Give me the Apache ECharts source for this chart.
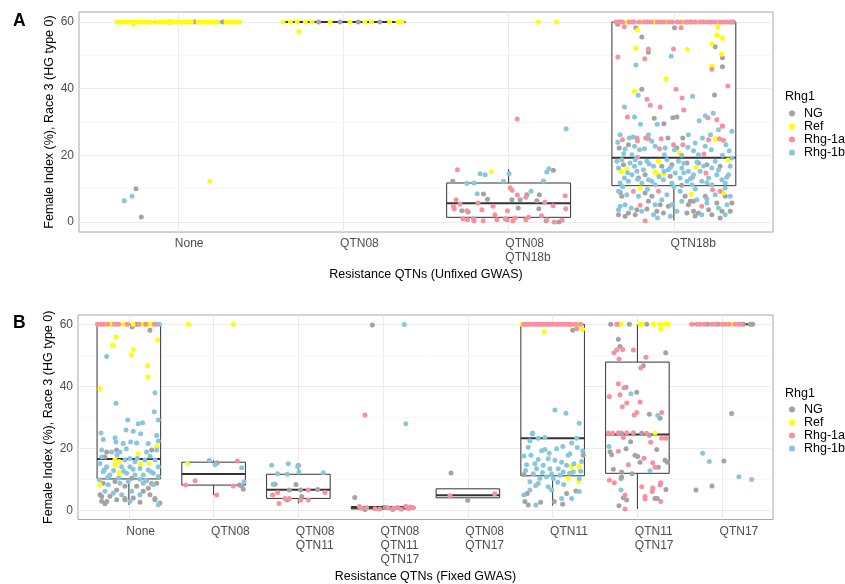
<!DOCTYPE html>
<html>
<head>
<meta charset="utf-8">
<title>Female Index by resistance QTN combination</title>
<script src="https://cdn.jsdelivr.net/npm/echarts@6/dist/echarts.min.js"></script>
<style>
  html, body { margin: 0; padding: 0; background: #ffffff; }
  #chart { width: 845px; height: 584px; }
</style>
</head>
<body>
<div id="chart"></div>
<script>
// ---------- categories and axis ticks ----------
const unfixedCats = ['None', 'QTN08', 'QTN08\nQTN18b', 'QTN18b'];
const fixedCats = ['None', 'QTN08', 'QTN08\nQTN11', 'QTN08\nQTN11\nQTN17', 'QTN08\nQTN17', 'QTN11', 'QTN11\nQTN17', 'QTN17'];
const yMajorTicks = [0, 20, 40, 60];
const yMinorTicks = [10, 30, 50];

const genotypes = ['NG', 'Ref', 'Rhg-1a', 'Rhg-1b'];
const genotypeColors = ['#a3a3a3', '#ffff00', '#f8919f', '#89c6dc'];

// ---------- box statistics per category: [lower whisker, Q1, median, Q3, upper whisker] ----------
const unfixedBoxStats = [
  [60, 60, 60, 60, 60],
  [60, 60, 60, 60, 60],
  [0, 1.4, 5.6, 11.7, 15.9],
  [0.5, 10.9, 19.3, 60, 60]
];
const fixedBoxStats = [
  [1.7, 10.1, 16.5, 60, 60],
  [4.9, 8.1, 11.7, 15.5, 16.1],
  [2.2, 3.8, 6.6, 11.6, 14.8],
  [0.1, 0.4, 0.8, 1.2, 1.6],
  [3.2, 4.0, 4.8, 6.9, 6.9],
  [1.5, 11.1, 23.2, 60, 60],
  [0.4, 11.9, 24.4, 47.8, 60],
  [60, 60, 60, 60, 60]
];

// ---------- observations: [category index, jitter offset, female index] ----------
const unfixedNG = [
  [0,-0.255,10.0],[0,-0.223,1.5],[0,0.10,60],[0,0.27,60],[0,-0.05,60],
  [1,-0.15,60],[1,-0.02,60],[1,0.09,60],[1,0.22,60],
  [2,-0.338,12.2],[2,0.271,15.5],[2,-0.152,8.4],[2,0.11,8.2],[2,0.186,8.2],[2,-0.128,6.8],[2,0.02,6.7],[2,0.07,6.7],
  [2,0.171,6.4],[2,-0.283,3.4],[2,-0.245,3.0],[2,0.058,4.2],[2,0.183,4.0],[2,0.227,0.3],[2,0.304,0],
  [3,-0.34,59.3],[3,-0.23,58.3],[3,0.004,58.3],[3,-0.194,55.5],[3,0.25,52.6],[3,-0.154,50.9],[3,0.294,49.3],[3,0.294,46.6],
  [3,-0.194,39.8],[3,0.246,38.1],[3,-0.119,31.1],[3,-0.006,31.3],[3,0.018,31.5],[3,-0.06,29.5],
  [3,-0.331,22.2],[3,-0.275,23.2],[3,-0.036,25.2],[3,0.018,22.2],[3,0.054,25.2],
  [3,-0.305,17.2],[3,-0.214,13.2],[3,-0.174,14.2],[3,-0.073,16.7],[3,-0.012,17.2],[3,0.079,17.7],[3,0.149,17.7],[3,0.2,17.2],
  [3,0.28,16.7],[3,0.048,11.0],[3,-0.022,13.7],
  [3,-0.315,7.7],[3,-0.174,8.7],[3,-0.335,2.2],[3,-0.275,2.7],[3,-0.234,2.2],[3,-0.154,6.2],[3,-0.133,7.7],[3,-0.103,3.2],
  [3,-0.063,2.7],[3,-0.033,4.7],[3,-0.224,3.7],[3,0.068,7.7],[3,0.088,5.2],[3,0.119,3.2],[3,0.149,2.7],[3,0.19,7.7],
  [3,0.21,3.7],[3,0.26,5.7],[3,0.311,7.7],[3,0.291,3.2],[3,0.351,5.7],[3,0.23,2.2],[3,0.079,2.7],[3,-0.295,1.7],
  [3,0.341,3.2],[3,-0.083,5.2],[3,0.119,6.2],[3,-0.325,8.9],[3,-0.163,3.9],[3,0.099,6.2],[3,0.129,1.8],[3,0.28,1.2],
  [3,-0.33,60],[3,0.36,60],[3,0.10,60],[3,-0.12,60],[3,0.22,60]
];
const unfixedRef = [
  [0,0.191,12.2],[0,-0.27,59.4],
  [0,-0.37,60],[0,-0.355,60],[0,-0.34,60],[0,-0.32,60],[0,-0.305,60],[0,-0.29,60],[0,-0.26,60],[0,-0.245,60],
  [0,-0.23,60],[0,-0.21,60],[0,-0.19,60],[0,-0.175,60],[0,-0.16,60],[0,-0.13,60],[0,-0.115,60],[0,-0.1,60],
  [0,-0.08,60],[0,-0.06,60],[0,-0.045,60],[0,-0.03,60],[0,-0.01,60],[0,0.015,60],[0,0.03,60],[0,0.05,60],
  [0,0.065,60],[0,0.08,60],[0,0.12,60],[0,0.135,60],[0,0.15,60],[0,0.17,60],[0,0.19,60],[0,0.205,60],
  [0,0.22,60],[0,0.24,60],[0,0.29,60],[0,0.305,60],[0,0.32,60],[0,0.34,60],[0,0.36,60],[0,0.37,60],
  [1,-0.27,57.2],[1,-0.365,60],[1,-0.32,60],[1,-0.28,60],[1,-0.23,60],[1,-0.19,60],[1,-0.08,60],[1,0.04,60],
  [1,0.13,60],[1,0.17,60],[1,0.28,60],[1,0.33,60],[1,0.355,60],
  [2,-0.104,15.1],[2,0.18,60],[2,0.29,60],
  [3,-0.22,57.6],[3,0.266,58.6],[3,0.26,56.1],[3,0.294,55.1],[3,0.23,53.4],[3,-0.23,52.1],[3,0.08,51.8],[3,0.288,50.3],
  [3,0.232,46.8],[3,-0.047,43.0],[3,-0.24,39.3],[3,0.25,25.0],[3,0.032,20.6],[3,-0.319,15.0],[3,-0.285,15.9],[3,-0.093,18.2],
  [3,-0.113,15.0],[3,-0.093,14.2],[3,-0.06,14.4],[3,0.133,16.4],[3,0.327,18.6],[3,-0.204,10.2],[3,0.105,8.4],[3,0.3,8.7],
  [3,-0.28,60],[3,-0.2,60],[3,-0.05,60],[3,0.05,60],[3,0.14,60],[3,0.27,60],[3,-0.11,60]
];
const unfixedRhg1a = [
  [2,0.052,30.9],[2,-0.31,15.7],[2,0.009,10.3],[2,0.021,9.5],[2,0.053,8.1],[2,0.104,7.4],[2,0.342,7.9],[2,-0.318,6.7],
  [2,0.219,5.9],[2,-0.294,5.4],[2,-0.334,4.7],[2,-0.329,3.9],[2,-0.185,5.7],[2,-0.094,4.7],[2,0.269,4.9],[2,0.345,4.0],
  [2,-0.253,3.4],[2,-0.162,3.7],[2,-0.007,3.4],[2,-0.083,2.2],[2,-0.277,1.0],[2,-0.249,0.7],[2,-0.213,1.0],[2,-0.209,0.3],
  [2,-0.154,0.4],[2,-0.071,0.7],[2,-0.021,1.0],[2,-0.011,0.7],[2,0.025,0.3],[2,0.039,1.2],[2,0.104,0.7],[2,0.12,1.4],
  [2,0.199,1.9],[2,0.231,0.7],[2,0.276,0.0],[2,0.324,0.5],
  [3,-0.30,58.6],[3,0.044,58.3],[3,-0.154,51.9],[3,-0.002,51.9],[3,-0.339,49.5],[3,-0.176,49.0],[3,0.23,45.8],[3,0.327,40.8],
  [3,0.014,39.8],[3,0.05,37.2],[3,-0.163,36.8],[3,-0.143,35.0],[3,-0.083,34.5],[3,0.06,33.6],[3,-0.281,31.5],[3,0.206,31.3],
  [3,0.26,30.7],[3,0.294,28.8],
  [3,-0.311,24.7],[3,-0.224,25.2],[3,-0.22,24.4],[3,-0.17,25.2],[3,-0.154,25.0],[3,-0.087,22.0],[3,-0.077,25.0],[3,-0.002,23.2],
  [3,0.054,23.2],[3,0.21,24.7],[3,0.276,25.0],[3,0.3,24.5],[3,0.294,28.7],[3,-0.22,19.4],[3,0.182,20.4],
  [3,0.113,13.4],[3,0.194,14.7],
  [3,-0.245,9.2],[3,-0.204,5.0],[3,-0.093,9.2],[3,-0.174,0.4],[3,0.169,4.7],[3,0.234,9.7],[3,0.28,9.2],
  [3,-0.35,60],[3,-0.33,60],[3,-0.31,60],[3,-0.27,60],[3,-0.25,60],[3,-0.24,60],[3,-0.21,60],[3,-0.18,60],
  [3,-0.16,60],[3,-0.14,60],[3,-0.1,60],[3,-0.08,60],[3,-0.06,60],[3,-0.03,60],[3,-0.01,60],[3,0.02,60],
  [3,0.04,60],[3,0.07,60],[3,0.08,60],[3,0.11,60],[3,0.13,60],[3,0.16,60],[3,0.18,60],[3,0.2,60],
  [3,0.23,60],[3,0.25,60],[3,0.28,60],[3,0.3,60],[3,0.32,60],[3,0.34,60],[3,0.35,60]
];
const unfixedRhg1b = [
  [0,-0.326,6.4],[0,-0.279,7.7],
  [2,0.348,28.0],[2,-0.173,14.5],[2,-0.142,14.2],[2,0.003,14.5],[2,0.244,16.0],[2,0.231,15.0],[2,-0.253,11.6],[2,-0.209,11.7],
  [2,-0.031,12.2],[2,0.211,12.3],[2,-0.19,8.5],[2,0.136,9.2],
  [3,-0.016,49.7],[3,-0.23,47.1],[3,-0.216,38.0],[3,0.113,37.7],[3,-0.299,34.5],[3,-0.238,31.5],[3,0.19,31.9],[3,0.238,32.6],
  [3,0.153,30.4],[3,-0.202,29.3],[3,-0.101,29.3],
  [3,-0.325,26.2],[3,-0.339,23.9],[3,-0.295,21.9],[3,-0.27,25.2],[3,-0.248,25.5],[3,-0.238,22.7],[3,-0.208,21.7],[3,-0.154,26.2],
  [3,-0.133,24.2],[3,-0.178,22.0],[3,-0.113,22.7],[3,-0.053,22.2],[3,0.004,21.7],[3,0.085,22.4],[3,0.119,21.4],[3,0.129,23.7],
  [3,0.173,25.2],[3,0.19,22.7],[3,0.226,21.7],[3,0.222,26.2],[3,0.315,23.2],[3,0.335,21.4],[3,0.351,27.2],[3,0.27,27.7],
  [3,0.088,26.2],[3,-0.303,20.5],[3,-0.254,20.2],[3,-0.057,20.2],[3,0.048,20.0],[3,0.149,20.2],[3,0.294,20.0],
  [3,-0.345,18.2],[3,-0.315,18.7],[3,-0.335,16.2],[3,-0.299,13.2],[3,-0.265,17.7],[3,-0.238,16.7],[3,-0.254,14.2],[3,-0.224,15.2],
  [3,-0.325,11.7],[3,-0.275,12.2],[3,-0.204,17.7],[3,-0.184,15.7],[3,-0.163,18.2],[3,-0.194,11.7],[3,-0.154,12.7],[3,-0.123,16.7],
  [3,-0.133,12.2],[3,-0.042,18.7],[3,-0.033,15.7],[3,-0.063,12.7],[3,0.008,14.7],[3,-0.012,11.7],[3,0.028,18.2],[3,0.048,16.2],
  [3,0.038,13.2],[3,0.088,15.2],[3,0.079,12.2],[3,0.119,14.2],[3,0.159,15.2],[3,0.169,12.2],[3,0.21,13.2],[3,0.23,16.2],
  [3,0.25,18.2],[3,0.26,14.2],[3,0.291,12.7],[3,0.341,16.7],[3,0.331,14.2],[3,0.311,11.7],[3,0.351,19.2],[3,-0.113,11.2],
  [3,0.109,11.2],[3,0.23,11.2],[3,-0.234,18.7],
  [3,-0.28,14.8],[3,-0.22,12.8],[3,-0.15,17.4],[3,-0.09,13.6],[3,-0.02,16.4],[3,0.06,17.6],[3,0.1,13.0],[3,0.14,18.0],
  [3,0.18,16.8],[3,0.2,11.8],[3,0.27,15.6],[3,0.32,13.4],[3,-0.31,10.6],[3,0.0,10.6],[3,-0.06,15.2],[3,0.06,14.8],
  [3,-0.335,9.2],[3,-0.285,8.2],[3,-0.214,7.7],[3,-0.325,4.7],[3,-0.295,5.2],[3,-0.258,4.2],[3,-0.194,3.2],[3,-0.113,5.2],
  [3,-0.073,6.7],[3,-0.042,8.2],[3,-0.012,5.2],[3,0.038,9.2],[3,0.048,6.2],[3,0.139,6.7],[3,0.2,5.7],[3,0.25,8.2],
  [3,0.321,5.2],[3,0.311,2.2],[3,0.341,7.7],[3,0.27,4.2],[3,0.169,2.2],[3,0.018,3.2],[3,-0.123,2.2],[3,-0.335,3.7],
  [3,-0.022,1.7],[3,-0.099,1.2],[3,0.2,6.9],[3,-0.16,9.8],[3,0.13,9.9],[3,0.31,10.2]
];

const fixedNG = [
  [0,0.249,58.1],[0,0.04,59.1],[0,0.09,60],[0,-0.2,60],
  [0,-0.144,19.4],[0,-0.262,18.8],[0,0.269,19.4],[0,-0.282,17.2],[0,0.033,10.3],[0,-0.302,8.7],[0,-0.164,9.3],[0,-0.046,7.7],
  [0,0.092,7.7],[0,0.229,7.1],[0,0.328,8.7],[0,-0.341,5.0],[0,-0.223,4.5],[0,-0.144,3.4],[0,-0.046,3.4],[0,0.052,3.9],
  [0,0.17,6.1],[0,0.131,2.6],[0,0.249,5.0],[0,0.308,3.4],[0,-0.321,2.9],[0,-0.282,2.1],[0,0.367,2.3],
  [0,-0.32,4.4],[0,-0.26,2.8],[0,-0.144,6.5],[0,-0.046,3.8],[0,0.21,9.7],[0,0.308,3.8],[0,0.269,8.6],
  [1,0.044,15.3],[1,0.303,8.1],[1,0.35,6.8],[1,0.331,7.8],
  [2,-0.276,8.4],[2,-0.028,8.3],[2,-0.107,6.5],[2,0.027,6.5],[2,0.228,6.7],[2,-0.131,3.3],[2,0.039,4.4],[2,0.0,14.4],
  [3,-0.127,59.8],[3,-0.335,4.1],[3,-0.214,0.2],[3,0.022,0.9],[3,0.113,0.2],
  [4,-0.199,12.0],[4,-0.002,3.2],
  [5,0.236,58.1],[5,0.361,17.7],[5,-0.339,11.5],[5,0.165,5.4],[5,0.275,6.2],[5,-0.3,5.4],[5,-0.327,2.8],[5,-0.288,1.7],
  [5,-0.142,2.6],[5,0.019,2.8],[5,0.118,1.9],[5,-0.05,60],[5,0.2,60],
  [6,-0.315,60],[6,-0.213,60],[6,-0.095,60],[6,0.11,60],
  [6,-0.225,55.2],[6,-0.205,52.8],[6,0.334,50.8],[6,0.07,46.6],[6,-0.134,39.7],[6,-0.008,38.1],[6,0.141,31.0],[6,0.267,29.7],
  [6,-0.186,24.8],[6,0.051,24.8],[6,0.141,24.2],[6,-0.08,22.1],[6,-0.323,18.9],[6,-0.134,19.8],[6,0.228,19.6],[6,-0.303,17.9],
  [6,-0.028,17.7],[6,0.003,17.3],[6,0.031,15.5],[6,0.326,16.1],[6,0.353,15.5],[6,0.247,13.9],[6,-0.284,13.2],[6,-0.186,12.3],
  [6,-0.064,11.8],[6,-0.186,10.8],[6,-0.193,10.2],[6,0.337,6.7],[6,-0.166,4.0],[6,-0.126,3.3],[6,0.208,3.8],[6,0.235,3.8],
  [6,-0.217,1.4],
  [7,0.112,31.2],[7,0.021,15.9],[7,-0.309,6.5],[7,-0.12,7.8],[7,-0.17,60],[7,-0.05,60],[7,0.25,60],[7,0.33,60],[7,0.36,60]
];
const fixedRef = [
  [0,-0.152,55.9],[0,-0.191,53.2],[0,0.34,54.9],[0,0.052,51.9],[0,0.028,50.2],[0,0.222,46.6],[0,0.225,43.1],[0,-0.341,39.3],
  [0,0.328,20.6],[0,0.111,18.3],[0,-0.164,16.4],[0,-0.113,15.7],[0,0.139,14.8],[0,0.241,15.1],[0,-0.164,14.6],[0,-0.113,12.2],
  [0,-0.341,8.2],[0,-0.28,60],[0,-0.22,60],[0,-0.06,60],[0,0.05,60],[0,0.17,60],[0,0.22,60],[0,0.26,60],
  [1,-0.31,15.0],[1,-0.298,60],[1,0.232,60],
  [5,-0.099,57.6],[5,0.354,58.4],[5,0.224,14.1],[5,0.31,14.1],[5,0.184,10.2],[5,0.306,9.2],[5,-0.36,60],[5,0.25,60],[5,0.3,60],
  [6,-0.193,60],[6,0.031,60],[6,0.054,60],[6,0.188,60],[6,0.267,60],[6,0.326,60],[6,0.365,60],[6,0.275,58.6],[6,0.208,24.9],
  [7,0.11,60]
];
const fixedRhg1a = [
  [0,-0.37,60],[0,-0.33,60],[0,-0.3,60],[0,-0.25,60],[0,-0.16,60],[0,-0.12,60],[0,-0.02,60],[0,0.12,60],[0,0.2,60],[0,0.3,60],[0,0.33,60],
  [1,0.28,15.9],[1,-0.219,9.5],[1,-0.329,8.1],[1,0.036,4.9],[1,0.232,7.8],
  [2,0.117,6.5],[2,0.314,5.7],[2,-0.244,5.7],[2,-0.303,4.9],[2,-0.158,3.8],[2,-0.107,3.8],[2,0.027,3.3],[2,0.117,3.3],[2,-0.229,2.2],
  [3,-0.214,30.7],[3,-0.281,1.2],[3,-0.194,0.8],[3,-0.096,0.5],[3,0.061,0.8],[3,0.12,0.6],[3,0.211,0.3],[3,0.267,1.3],
  [3,0.317,1.0],[3,0.349,0.9],[3,-0.25,0.6],[3,-0.04,0.4],[3,0.17,0.9],[3,0.3,0.5],
  [4,-0.211,4.7],[4,0.316,5.3],
  [5,0.283,58.6],[5,-0.34,60],[5,-0.32,60],[5,-0.29,60],[5,-0.27,60],[5,-0.23,60],[5,-0.2,60],[5,-0.17,60],[5,-0.14,60],
  [5,-0.12,60],[5,-0.08,60],[5,-0.03,60],[5,0.0,60],[5,0.04,60],[5,0.07,60],[5,0.1,60],[5,0.13,60],[5,0.16,60],
  [5,0.19,60],[5,0.22,60],[5,0.27,60],[5,0.33,60],
  [6,-0.244,60],[6,-0.244,51.7],[6,-0.276,50.8],[6,-0.173,51.9],[6,-0.048,51.7],[6,-0.217,48.8],[6,0.101,49.4],[6,0.039,45.9],
  [6,-0.225,40.8],[6,-0.158,39.5],[6,-0.331,36.7],[6,-0.205,37.3],[6,0.031,34.9],[6,-0.126,34.6],[6,-0.178,33.4],[6,-0.008,31.5],
  [6,-0.037,30.7],[6,0.287,31.5],[6,-0.343,24.9],[6,-0.292,24.8],[6,-0.225,25.0],[6,-0.126,25.0],[6,-0.048,25.0],[6,0.11,24.8],
  [6,-0.166,23.5],[6,0.157,21.9],[6,0.287,23.2],[6,0.337,23.2],[6,-0.225,19.0],[6,0.078,16.8],[6,0.181,15.3],[6,-0.107,14.7],
  [6,0.208,13.9],[6,-0.331,9.7],[6,-0.272,8.9],[6,0.275,8.9],[6,0.051,7.6],[6,0.181,7.2],[6,0.267,8.1],[6,0.176,6.0],
  [6,-0.146,4.9],[6,0.09,4.4],[6,0.09,3.6],[6,0.275,2.8],[6,-0.146,0.4],
  [7,-0.36,60],[7,-0.3,60],[7,-0.26,60],[7,-0.21,60],[7,-0.12,60],[7,-0.08,60],[7,0.0,60],[7,0.04,60],[7,0.08,60],
  [7,0.15,60],[7,0.19,60],[7,0.22,60]
];
const fixedRhg1b = [
  [0,0.36,60],
  [0,-0.262,49.6],[0,0.308,37.9],[0,-0.152,34.5],[0,0.3,31.8],[0,-0.014,29.1],[0,0.347,29.1],[0,0.111,27.9],[0,0.163,28.2],
  [0,-0.034,25.9],[0,0.052,25.5],[0,-0.329,24.9],[0,-0.302,22.8],[0,0.139,24.7],[0,-0.164,23.4],[0,-0.152,22.0],[0,-0.066,21.5],
  [0,0.021,22.0],[0,0.092,21.7],[0,0.229,21.5],[0,0.328,24.1],[0,0.347,22.3],[0,-0.321,19.4],[0,-0.203,18.8],[0,-0.105,18.8],
  [0,0.21,18.8],[0,0.328,19.4],[0,-0.321,17.2],[0,-0.046,16.2],[0,0.013,16.7],[0,0.072,15.6],[0,0.19,16.2],[0,0.308,16.2],
  [0,-0.341,15.1],[0,-0.262,14.0],[0,-0.085,14.0],[0,0.013,14.0],[0,0.131,13.5],[0,0.229,13.0],[0,0.347,14.0],[0,-0.302,12.4],
  [0,-0.223,11.4],[0,-0.026,11.9],[0,0.072,11.4],[0,0.17,11.4],[0,0.288,11.9],[0,0.347,10.9],[0,0.131,10.0],[0,-0.349,9.8],
  [0,-0.243,8.2],[0,-0.105,8.7],[0,-0.007,9.3],[0,0.17,8.7],[0,0.288,8.2],[0,-0.282,6.1],[0,-0.184,5.5],[0,-0.085,5.0],
  [0,0.033,6.1],[0,0.131,5.0],[0,0.347,1.8],[0,0.013,2.9],
  [0,-0.29,13.0],[0,-0.18,12.8],[0,-0.06,12.6],[0,0.05,13.2],[0,0.26,12.4],[0,-0.12,10.4],[0,0.2,9.6],[0,-0.25,10.6],
  [0,0.1,16.8],[0,-0.14,17.8],[0,0.25,17.4],[0,-0.03,19.8],
  [1,-0.051,16.1],[1,0.017,14.7],[1,0.331,13.7],[1,0.359,9.2],
  [2,-0.315,14.5],[2,-0.119,15.0],[2,-0.008,14.1],[2,0.007,12.3],[2,-0.244,11.8],[2,-0.131,11.6],[2,0.294,12.1],[2,-0.296,8.4],
  [3,0.25,59.9],[3,0.267,27.9],
  [5,0.027,32.3],[5,0.157,31.3],[5,0.314,28.1],[5,-0.236,24.9],[5,-0.241,24.6],[5,-0.17,23.2],[5,-0.091,23.5],[5,-0.268,22.4],
  [5,0.283,23.2],[5,0.224,21.7],[5,-0.288,20.3],[5,-0.13,19.2],[5,-0.091,19.6],[5,0.047,19.8],[5,0.204,18.2],[5,0.354,19.2],
  [5,-0.339,17.5],[5,-0.256,17.7],[5,-0.17,16.4],[5,-0.209,15.0],[5,-0.052,16.6],[5,0.027,16.1],[5,0.106,15.5],[5,0.184,17.7],
  [5,0.243,12.3],[5,-0.307,14.7],[5,-0.111,14.5],[5,-0.032,13.4],[5,0.066,13.4],[5,0.125,12.3],[5,0.165,14.5],[5,-0.229,11.8],
  [5,-0.15,10.2],[5,-0.071,10.8],[5,0.007,10.2],[5,0.314,10.2],[5,-0.268,9.2],[5,-0.17,8.6],[5,-0.052,7.6],[5,-0.268,6.5],
  [5,-0.012,6.5],[5,0.314,6.0],[5,-0.339,4.9],[5,0.106,3.8],[5,0.224,3.8],[5,-0.197,1.7],[5,-0.189,13.4],[5,-0.012,11.8],
  [5,0.086,11.3],[5,0.251,15.0],[5,0.342,15.7],[5,0.29,20.2],[5,-0.32,12.8],[5,0.13,8.3],[5,0.06,9.0],[5,-0.12,12.2],
  [5,0.2,11.9],[5,0.33,12.6],[5,-0.04,18.4],[5,0.12,20.6],[5,-0.2,8.0],
  [6,-0.076,37.6],[6,0.24,30.6],[6,-0.335,20.6],[6,0.149,12.7],[6,-0.193,6.5],
  [7,-0.23,18.4],[7,-0.152,15.7],[7,0.198,10.8],[7,0.348,9.9]
];

// ---------- drawing helpers ----------
const FONT = '"Liberation Sans", Arial, Helvetica, sans-serif';
const BOX_HALF_WIDTH = 0.375;
const GRID_MAJOR = { color: '#ebebeb', width: 1, type: 'solid' };
const GRID_MINOR = { color: '#f3f3f3', width: 0.7, type: 'solid' };

function toXY(points) {
  return points.map(p => [p[0] + p[1], p[2]]);
}

function renderBox(params, api) {
  const i = api.value(0);
  const lo = api.value(1), q1 = api.value(2), med = api.value(3), q3 = api.value(4), hi = api.value(5);
  const tl = api.coord([i - BOX_HALF_WIDTH, q3]);
  const br = api.coord([i + BOX_HALF_WIDTH, q1]);
  const cx = api.coord([i, 0])[0];
  const yHi = api.coord([i, hi])[1], yLo = api.coord([i, lo])[1];
  const yMed = api.coord([i, med])[1];
  const stroke = '#333333';
  return {
    type: 'group',
    children: [
      { type: 'line', shape: { x1: cx, y1: yHi, x2: cx, y2: tl[1] }, style: { stroke, lineWidth: 1 } },
      { type: 'line', shape: { x1: cx, y1: br[1], x2: cx, y2: yLo }, style: { stroke, lineWidth: 1 } },
      { type: 'rect', shape: { x: tl[0], y: tl[1], width: br[0] - tl[0], height: br[1] - tl[1] },
        style: { fill: '#ffffff', stroke, lineWidth: 1 } },
      { type: 'line', shape: { x1: tl[0], y1: yMed, x2: br[0], y2: yMed }, style: { stroke, lineWidth: 2 } }
    ]
  };
}

function panelSeries(gridIndex, cats, boxStats, pointSets) {
  // background grid lines: major/minor horizontal lines and one vertical line per category
  const lines = [];
  yMajorTicks.forEach(v => lines.push({ yAxis: v, lineStyle: GRID_MAJOR }));
  yMinorTicks.forEach(v => lines.push({ yAxis: v, lineStyle: GRID_MINOR }));
  cats.forEach((c, i) => lines.push({ xAxis: i, lineStyle: GRID_MAJOR }));
  const series = [
    { type: 'scatter', name: 'gridlines' + gridIndex, xAxisIndex: gridIndex, yAxisIndex: gridIndex,
      data: [], z: 1, silent: true,
      markLine: { silent: true, symbol: ['none', 'none'], label: { show: false }, animation: false,
        z: 1, emphasis: { disabled: true }, data: lines } },
    { type: 'custom', name: 'box' + gridIndex, xAxisIndex: gridIndex, yAxisIndex: gridIndex,
      renderItem: renderBox, data: boxStats.map((b, i) => [i].concat(b)), z: 2, silent: true,
      encode: { x: 0, y: [1, 2, 3, 4, 5] } }
  ];
  pointSets.forEach((pts, k) => {
    series.push({
      type: 'scatter', name: genotypes[k], xAxisIndex: gridIndex, yAxisIndex: gridIndex,
      data: toXY(pts), symbol: 'circle', symbolSize: 5, z: 3, silent: true,
      itemStyle: { color: genotypeColors[k], opacity: 1 }
    });
  });
  return series;
}

function xAxisFor(gridIndex, cats, title, nameGap, labelShift) {
  return {
    gridIndex, type: 'value', min: -0.6, max: cats.length - 0.4,
    axisLine: { show: false }, splitLine: { show: false },
    axisTick: { show: true, customValues: cats.map((c, i) => i), length: 3.5,
      lineStyle: { color: '#333333', width: 1 } },
    axisLabel: { customValues: cats.map((c, i) => i - labelShift), formatter: v => cats[Math.round(v)],
      align: 'left', color: '#4d4d4d', fontSize: 12, fontFamily: FONT, lineHeight: 14, margin: 5 },
    name: title, nameLocation: 'middle', nameGap,
    nameTextStyle: { color: '#000000', fontSize: 12.5, fontFamily: FONT }
  };
}

function yAxisFor(gridIndex) {
  return {
    gridIndex, type: 'value', min: -3, max: 63,
    axisLine: { show: false }, splitLine: { show: false },
    axisTick: { show: true, customValues: yMajorTicks, length: 3.5, lineStyle: { color: '#333333', width: 1 } },
    axisLabel: { customValues: yMajorTicks, color: '#4d4d4d', fontSize: 12, fontFamily: FONT, margin: 5 },
    name: 'Female Index (%), Race 3 (HG type 0)', nameLocation: 'middle', nameGap: 23, nameMoveOverlap: false,
    nameTextStyle: { color: '#000000', fontSize: 12.5, fontFamily: FONT }
  };
}

function legendFor(top) {
  return {
    orient: 'vertical', left: 789, top, padding: 0, data: genotypes, selectedMode: false,
    icon: 'circle', itemWidth: 14, itemHeight: 6, itemGap: 0,
    textStyle: { color: '#000000', fontSize: 12.5, fontFamily: FONT, lineHeight: 12 }
  };
}

const chart = echarts.init(document.getElementById('chart'), null, { renderer: 'canvas', width: 845, height: 584 });

chart.setOption({
  backgroundColor: '#ffffff',
  animation: false,
  grid: [
    { left: 79, top: 12, width: 694, height: 220, show: true, borderColor: '#a6a6a6', borderWidth: 1, backgroundColor: 'transparent' },
    { left: 78, top: 315, width: 695, height: 206, show: true, borderColor: '#a6a6a6', borderWidth: 1, backgroundColor: 'transparent' }
  ],
  xAxis: [
    xAxisFor(0, unfixedCats, 'Resistance QTNs (Unfixed GWAS)', 36, 0.02),
    xAxisFor(1, fixedCats, 'Resistance QTNs (Fixed GWAS)', 50.5, 0.03)
  ],
  yAxis: [yAxisFor(0), yAxisFor(1)],
  legend: [legendFor(107), legendFor(403)],
  graphic: [
    { type: 'text', left: 13, top: 12, style: { text: 'A', fontSize: 17.5, fontWeight: 'bold', fontFamily: FONT, fill: '#000' } },
    { type: 'text', left: 13, top: 314, style: { text: 'B', fontSize: 17.5, fontWeight: 'bold', fontFamily: FONT, fill: '#000' } },
    { type: 'text', left: 785, top: 90, style: { text: 'Rhg1', fontSize: 12.5, fontFamily: FONT, fill: '#000' } },
    { type: 'text', left: 785, top: 387, style: { text: 'Rhg1', fontSize: 12.5, fontFamily: FONT, fill: '#000' } }
  ],
  series: [].concat(
    panelSeries(0, unfixedCats, unfixedBoxStats, [unfixedNG, unfixedRef, unfixedRhg1a, unfixedRhg1b]),
    panelSeries(1, fixedCats, fixedBoxStats, [fixedNG, fixedRef, fixedRhg1a, fixedRhg1b])
  )
});
</script>
</body>
</html>
